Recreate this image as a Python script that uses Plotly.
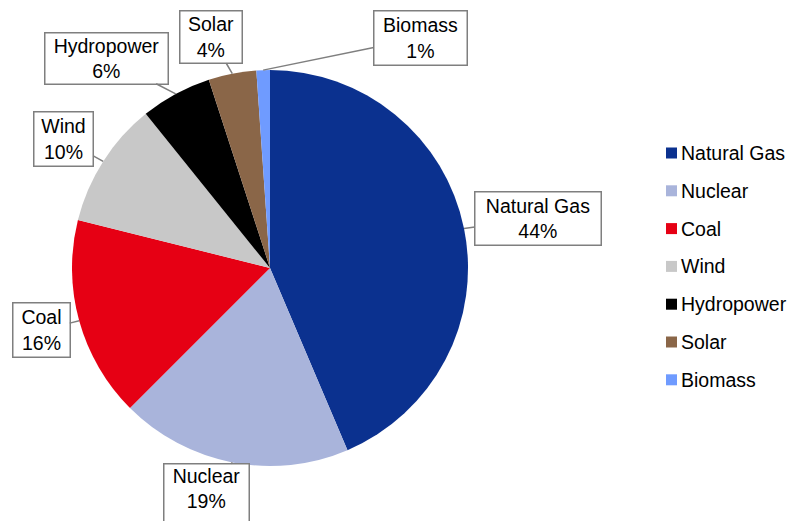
import math
import plotly.graph_objects as go

categories = ["Natural Gas", "Nuclear", "Coal", "Wind", "Hydropower", "Solar", "Biomass"]
values = [43.6, 18.9, 16.4, 10.3, 5.8, 3.9, 1.1]
colors = ["#0B318F", "#A9B4DB", "#E60014", "#C8C8C8", "#000000", "#8A6648", "#6F9BFF"]

W, H = 803, 521
CX, CY, R = 270, 268, 198
FONT = "Liberation Sans, Arial, sans-serif"
FS = 19.5

# callout box centres and sizes (px)
box_pos = {
    "Natural Gas": (538, 218.5, 128, 55),
    "Nuclear": (206.5, 495, 87, 64),
    "Coal": (41, 330, 59, 56),
    "Wind": (63.5, 139, 61, 56),
    "Hydropower": (106.5, 58, 125, 53),
    "Solar": (211, 37, 64, 54),
    "Biomass": (420.5, 38, 95, 56),
}

fig = go.Figure(go.Pie(
    labels=categories, values=values, sort=False, direction="clockwise", rotation=0,
    marker=dict(colors=colors, line=dict(width=0)),
    textinfo="none", hoverinfo="label+percent", showlegend=False,
    domain=dict(x=[(CX - R) / W, (CX + R) / W], y=[(H - CY - R) / H, (H - CY + R) / H]),
))

annotations = []
total = sum(values)
cum = 0
for cat, v in zip(categories, values):
    mid = (cum + v / 2) / total * 2 * math.pi
    cum += v
    tx = CX + R * math.sin(mid)
    ty = CY - R * math.cos(mid)
    bx, by, bw, bh = box_pos[cat]
    pct = round(v / total * 100)
    annotations.append(dict(
        x=tx / W, y=1 - ty / H, xref="paper", yref="paper",
        text=f"{cat}<br>{pct}%", showarrow=True, arrowhead=0, arrowwidth=1.5,
        arrowcolor="#7F7F7F", standoff=0, startstandoff=0,
        ax=bx - tx, ay=by - ty, axref="pixel", ayref="pixel",
        bgcolor="white", bordercolor="#7F7F7F", borderwidth=1.5, borderpad=0,
        width=bw - 3, height=bh - 3, align="center",
        valign="top" if cat == "Nuclear" else "middle",
        font=dict(family=FONT, size=FS, color="black"),
    ))

shapes = []
for i, (cat, col) in enumerate(zip(categories, colors)):
    yc = 153 + i * 37.8
    shapes.append(dict(type="rect", xref="paper", yref="paper",
                       x0=666 / W, x1=677 / W, y0=1 - (yc + 5.5) / H, y1=1 - (yc - 5.5) / H,
                       fillcolor=col, line=dict(width=0)))
    annotations.append(dict(x=679 / W, y=1 - yc / H, xref="paper", yref="paper",
                            text=cat, showarrow=False, xanchor="left", yanchor="middle",
                            font=dict(family=FONT, size=FS, color="black")))

fig.update_layout(
    width=W, height=H, margin=dict(l=0, r=0, t=0, b=0),
    paper_bgcolor="white", plot_bgcolor="white",
    annotations=annotations, shapes=shapes,
)
fig.write_html("out.html")
